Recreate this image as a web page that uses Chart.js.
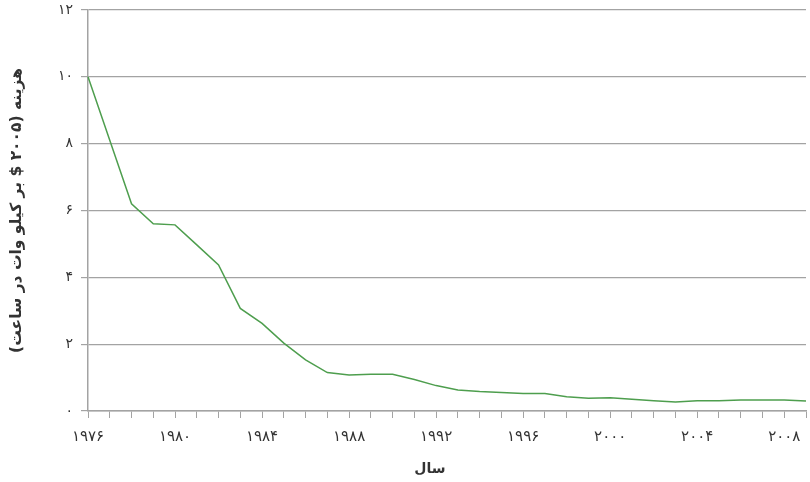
<!DOCTYPE html>
<html lang="fa">
<head>
<meta charset="utf-8">
<script src="https://cdn.jsdelivr.net/npm/chart.js@4/dist/chart.umd.min.js"></script>
<style>
  html, body { margin: 0; padding: 0; background: #fff; }
  #wrap { width: 810px; height: 482px; }
</style>
</head>
<body>
<div id="wrap"><canvas id="chart" dir="rtl" width="810" height="482"></canvas></div>
<script>
// سال ها
const years = [1976, 1977, 1978, 1979, 1980, 1981, 1982, 1983, 1984, 1985, 1986,
  1987, 1988, 1989, 1990, 1991, 1992, 1993, 1994, 1995, 1996, 1997, 1998,
  1999, 2000, 2001, 2002, 2003, 2004, 2005, 2006, 2007, 2008, 2009];
// هزینه (دلار ۲۰۰۵ بر کیلووات ساعت)
const cost = [10.0, 8.1, 6.2, 5.6, 5.57, 4.97, 4.37, 3.07, 2.62, 2.03, 1.53,
  1.15, 1.08, 1.1, 1.1, 0.94, 0.76, 0.63, 0.58, 0.55, 0.52, 0.52, 0.43,
  0.38, 0.4, 0.35, 0.31, 0.27, 0.31, 0.31, 0.33, 0.33, 0.33, 0.3];
const yTicks = [0, 2, 4, 6, 8, 10, 12];
const xTitle = '\u00a0'.repeat(7) + 'سال';
const yTitle = 'هزینه (۲۰۰۵ $ بر کیلو وات در ساعت)';

const faDigits = '۰۱۲۳۴۵۶۷۸۹';
const toFa = n => String(n).replace(/[0-9]/g, d => faDigits[d]);

const gridGray = '#a3a3a3';
const textColor = '#333333';
const font = "'DejaVu Sans', sans-serif";

const ctx = document.getElementById('chart').getContext('2d');
new Chart(ctx, {
  type: 'line',
  data: {
    labels: years,
    datasets: [{
      data: cost,
      borderColor: '#4e9e4e',
      borderWidth: 1.5,
      pointRadius: 0,
      tension: 0,
      fill: false
    }]
  },
  options: {
    responsive: false,
    animation: false,
    layout: { padding: { top: 10, right: 4, left: 0, bottom: 0 } },
    plugins: { legend: { display: false }, tooltip: { enabled: false } },
    scales: {
      x: {
        type: 'category',
        offset: false,
        grid: {
          drawOnChartArea: false,
          drawTicks: true,
          tickLength: 7,
          color: gridGray,
          lineWidth: 1
        },
        border: { color: gridGray, width: 1.5 },
        ticks: {
          autoSkip: false,
          maxRotation: 0,
          padding: 10,
          color: textColor,
          font: { family: font, size: 15 },
          callback: (v, i) => ((years[i] - 1976) % 4 === 0 ? toFa(years[i]) : '')
        },
        title: {
          display: true,
          text: xTitle,
          color: textColor,
          font: { family: font, size: 14, weight: 'bold' },
          padding: { top: 2 }
        },
        afterFit: s => {
          s.height = 71;
          s.paddingLeft = 0;
          s.paddingRight = 0;
        }
      },
      y: {
        min: 0,
        max: 12,
        afterBuildTicks: s => { s.ticks = yTicks.map(v => ({ value: v })); },
        grid: {
          color: gridGray,
          lineWidth: 1.2,
          tickLength: 7,
          drawTicks: true
        },
        border: { color: gridGray, width: 1.5 },
        ticks: {
          padding: 8,
          color: textColor,
          font: { family: font, size: 14 },
          callback: v => toFa(v)
        },
        title: {
          display: true,
          text: yTitle,
          color: textColor,
          font: { family: font, size: 15.5, weight: 'bold' },
          padding: { top: 8, bottom: 0 }
        },
        afterFit: s => {
          s.width = 88;
          s.paddingTop = 0;
          s.paddingBottom = 0;
        }
      }
    }
  }
});
</script>
</body>
</html>
